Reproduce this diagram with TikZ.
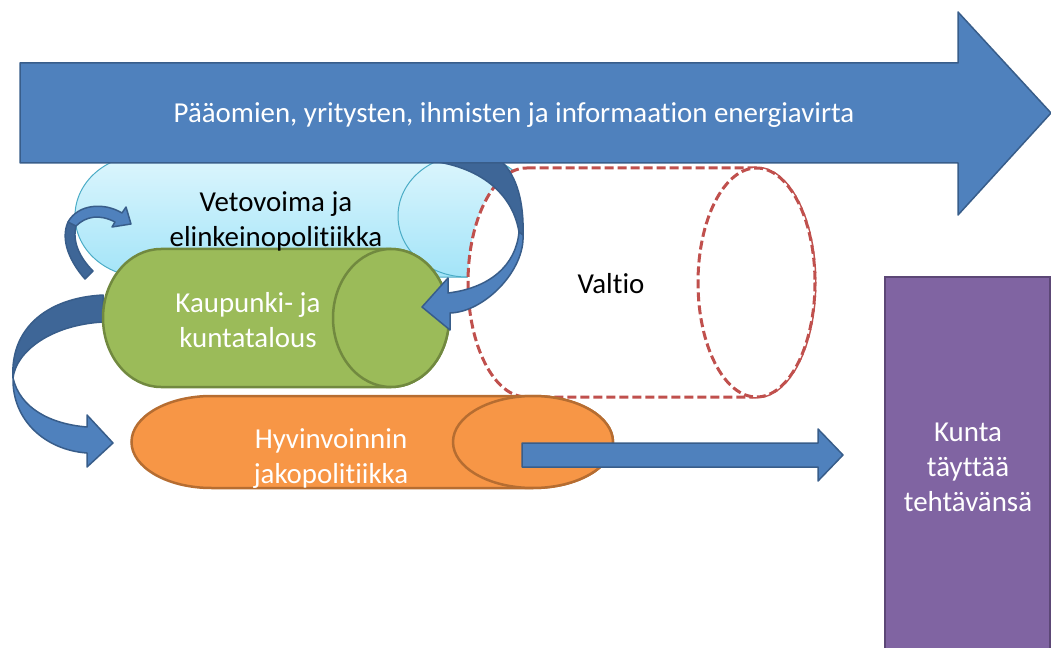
\documentclass[tikz,border=0pt]{standalone}
\usepackage{fontspec}
\setmainfont{Carlito}[Ligatures=NoCommon]
\definecolor{arrowblue}{HTML}{4F81BD}
\definecolor{arrowdark}{HTML}{3E6697}
\definecolor{arrowedge}{HTML}{385D8A}
\definecolor{cantop}{HTML}{DDF6FD}
\definecolor{canbottom}{HTML}{A3E4F8}
\definecolor{canedge}{HTML}{4BACC6}
\definecolor{greenfill}{HTML}{9BBB59}
\definecolor{greenedge}{HTML}{71893F}
\definecolor{orangefill}{HTML}{F79646}
\definecolor{orangeedge}{HTML}{B66D31}
\definecolor{purplefill}{HTML}{8064A2}
\definecolor{purpleedge}{HTML}{5C4776}
\definecolor{staterim}{HTML}{C0504D}
% horizontal can: left cap centre #2, right cap centre #3, axis height #4, radii #5/#6
\newcommand\drawcan[6]{%
  \path[#1] (#2,#4-#6) -- (#3,#4-#6)
    arc[start angle=-90,end angle=90,x radius=#5,y radius=#6]
    -- (#2,#4+#6)
    arc[start angle=90,end angle=270,x radius=#5,y radius=#6] -- cycle;
  \path[#1] (#3,#4) ellipse[x radius=#5,y radius=#6];}
\begin{document}
\begin{tikzpicture}[x=1bp,y=-1bp,
  lbl/.style={font=\fontsize{28.9bp}{35bp}\selectfont, align=center, inner sep=0pt},
  flowarrow/.style={fill=arrowblue, draw=arrowedge, line width=1.5bp, line join=round},
  flowback/.style={fill=arrowdark, draw=arrowedge, line width=1.5bp, line join=round},
  lightcan/.style={top color=cantop, bottom color=canbottom, draw=canedge, line width=1bp},
  greencan/.style={fill=greenfill, draw=greenedge, line width=2.5bp},
  orangecan/.style={fill=orangefill, draw=orangeedge, line width=2.5bp},
  statecan/.style={fill=white, draw=staterim, line width=3bp, dash pattern=on 9bp off 4bp}]
\useasboundingbox (0,0) rectangle (1051,648);

% Vetovoima can
\drawcan{lightcan}{144}{467}{216}{69}{61}
% Valtio can (dashed outline)
\drawcan{statecan}{526.5}{756.5}{282.5}{58.5}{114.5}

% small loop arrow on the left of the light can
\path[flowback] (85,279) .. controls (70,262) and (60,240) .. (68,222)
  -- (76,226) .. controls (72,242) and (80,258) .. (93,271) -- cycle;
\path[flowarrow] (68,222) .. controls (78,204) and (104,202) .. (122,213)
  -- (126,207) -- (131,224) -- (112,227) -- (115,222)
  .. controls (100,214) and (86,216) .. (76,226) -- cycle;

% big loop arrow from the green can down to the orange can
\path[flowback] (103,295) .. controls (45,298) and (10,330) .. (13,378)
  .. controls (16,352) and (50,325) .. (103,322) -- cycle;
\path[flowarrow] (13,378) .. controls (12,420) and (45,450) .. (87,453)
  -- (87,467) -- (113,443) -- (87,415) -- (87,427)
  .. controls (50,424) and (20,408) .. (13,378) -- cycle;

% Kaupunki- ja kuntatalous can
\drawcan{greencan}{161}{391}{318}{58}{69}

% loop arrow from the main flow into the green can
\path[flowback] (422,160) .. controls (475,164) and (512,190) .. (519,232)
  -- (523,235) .. controls (524,205) and (518,176) .. (500,160) -- cycle;
\path[flowarrow] (519,232) .. controls (516,265) and (490,288) .. (448,293)
  -- (448,278) -- (422,307) -- (450,330) -- (450,313)
  .. controls (485,312) and (525,270) .. (523,235) -- cycle;

% Hyvinvoinnin jakopolitiikka can
\drawcan{orangecan}{211.5}{533}{442}{80}{46}

% Kunta box
\path[fill=purplefill, draw=purpleedge, line width=2bp] (885,277) rectangle (1050,652);

% arrow from the orange can to the Kunta box
\path[flowarrow] (522,443) -- (818,443) -- (818,429) -- (843,455)
  -- (818,481) -- (818,467) -- (522,467) -- cycle;

% main flow arrow
\path[flowarrow] (20,63) -- (958,63) -- (958,12) -- (1051,113)
  -- (958,215) -- (958,163) -- (20,163) -- cycle;

% labels
\node[lbl, text=white] (flow) at (514,115) {Pääomien, yritysten, ihmisten ja informaation energiavirta};
\node[lbl, text=black] (veto) at (276,221) {Vetovoima ja\\elinkeinopolitiikka};
\node[lbl, text=white] (talous) at (248,320) {Kaupunki- ja\\kuntatalous};
\node[lbl, text=white] (hyvin) at (331,459) {Hyvinvoinnin\\jakopolitiikka};
\node[lbl, text=black] (valtio) at (611,284) {Valtio};
\node[lbl, text=white] (kunta) at (968,467) {Kunta\\täyttää\\tehtävänsä};
\end{tikzpicture}
\end{document}
